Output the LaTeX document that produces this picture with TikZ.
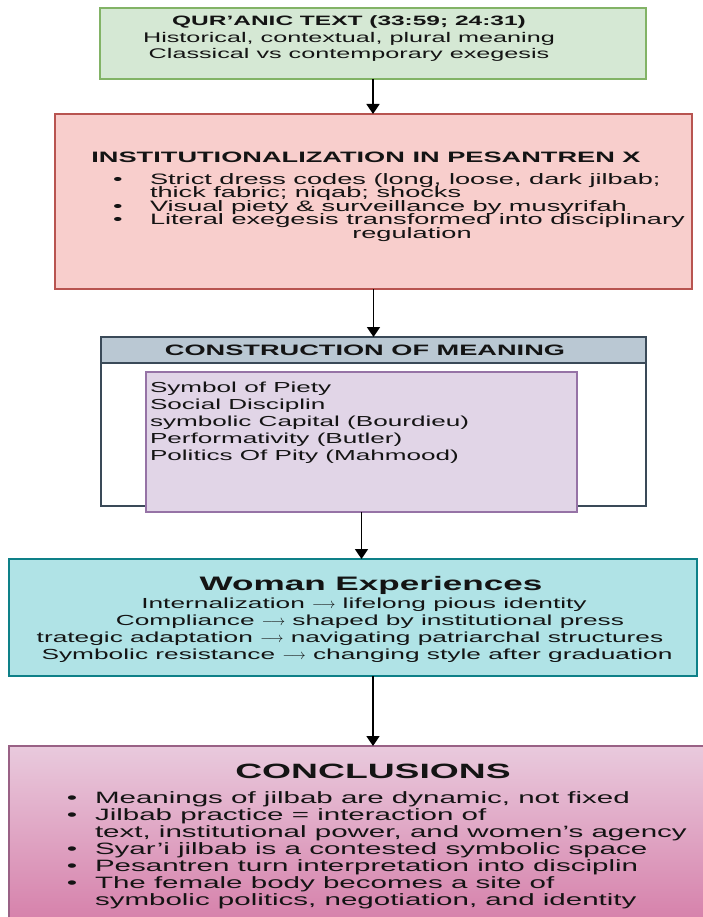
\documentclass[tikz,border=0pt]{standalone}
\usepackage{fontspec}
\setmainfont{Liberation Sans}[FakeStretch=1.8]
\usetikzlibrary{arrows.meta}
\definecolor{gfill}{HTML}{D5E8D4}
\definecolor{gdraw}{HTML}{82B366}
\definecolor{pfill}{HTML}{F8CECC}
\definecolor{pdraw}{HTML}{B85450}
\definecolor{hfill}{HTML}{BAC8D3}
\definecolor{hdraw}{HTML}{3A4A58}
\definecolor{lfill}{HTML}{E1D5E7}
\definecolor{ldraw}{HTML}{9673A6}
\definecolor{cfill}{HTML}{B0E3E6}
\definecolor{cdraw}{HTML}{0E8088}
\definecolor{mtop}{HTML}{E9CADD}
\definecolor{mbot}{HTML}{D57DA8}
\definecolor{mdraw}{HTML}{996185}
\definecolor{txt}{HTML}{141414}
\newcommand\fsz[1]{\fontsize{#1}{#1}\selectfont}
\newcommand\larr{ $\longrightarrow$ }
\begin{document}
\begin{tikzpicture}[x=1pt,y=-1pt,
  box/.style={rectangle, inner sep=0pt, outer sep=0pt, line width=1.4pt},
  ln/.style={inner sep=0pt, outer sep=0pt, anchor=base, text=txt},
  lnw/.style={inner sep=0pt, outer sep=0pt, anchor=base west, text=txt},
  bul/.style={inner sep=0pt, outer sep=0pt, anchor=base, text=txt},
  conn/.style={line width=1.8pt, -{Triangle[width=13pt,length=10pt]}}]
\useasboundingbox (0,0) rectangle (703,917);
\clip (0,0) rectangle (703,917);
\fill[white] (0,0) rectangle (703,917);

% boxes
\node[box, fill=gfill, draw=gdraw, minimum width=546pt, minimum height=71pt] (green) at (373,43.5) {};
\node[box, fill=pfill, draw=pdraw, minimum width=637pt, minimum height=175pt] (pink) at (373.5,201.5) {};
\node[box, fill=white, draw=hdraw, minimum width=545pt, minimum height=169pt] (outer) at (373.5,421.5) {};
\node[box, fill=hfill, draw=hdraw, minimum width=545pt, minimum height=26pt] (head) at (373.5,350) {};
\node[box, fill=lfill, draw=ldraw, minimum width=431pt, minimum height=140pt] (inner) at (361.5,442) {};
\node[box, fill=cfill, draw=cdraw, minimum width=688pt, minimum height=117pt] (cyan) at (353,617.5) {};
\node[box, top color=mtop, bottom color=mbot, draw=mdraw, minimum width=701pt, minimum height=184pt] (concl) at (359.5,838) {};

% green text
\node[ln, font=\bfseries\fsz{13.6}] (g1) at (349,26) {QUR’ANIC TEXT (33:59; 24:31)};
\node[ln, font=\fsz{14}] (g2) at (349,43) {Historical, contextual, plural meaning};
\node[ln, font=\fsz{14}] (g3) at (349,59) {Classical vs contemporary exegesis};

% pink text
\node[ln, font=\bfseries\fsz{15.1}] (p0) at (366,163) {INSTITUTIONALIZATION IN PESANTREN X};
\begin{scope}[font=\fsz{15.1}]
\node[bul] (pb1) at (118,184.5) {\textbullet};
\node[lnw] (p1) at (150,184.5) {Strict dress codes (long, loose, dark jilbab;};
\node[lnw] (p2) at (150,198) {thick fabric; niqab; shocks};
\node[bul] (pb3) at (118,211.5) {\textbullet};
\node[lnw] (p3) at (150,211.5) {Visual piety \& surveillance by musyrifah};
\node[bul] (pb4) at (118,225) {\textbullet};
\node[lnw] (p4) at (150,225) {Literal exegesis transformed into disciplinary};
\node[ln] (p5) at (412,238.5) {regulation};
\end{scope}

% construction of meaning
\node[ln, font=\bfseries\fsz{15.1}] (h0) at (365,355.5) {CONSTRUCTION OF MEANING};
\begin{scope}[font=\fsz{14.5}]
\node[lnw] (i1) at (150,392) {Symbol of Piety};
\node[lnw] (i2) at (150,409) {Social Disciplin};
\node[lnw] (i3) at (150,426) {symbolic Capital (Bourdieu)};
\node[lnw] (i4) at (150,443) {Performativity (Butler)};
\node[lnw] (i5) at (150,460) {Politics Of Pity (Mahmood)};
\end{scope}

% woman experiences
\node[ln, font=\bfseries\fsz{19.5}] (c0) at (371,590) {Woman Experiences};
\begin{scope}[font=\fsz{14.6}]
\node[ln] (c1) at (364,608.5) {Internalization\larr lifelong pious identity};
\node[ln] (c2) at (370,625.5) {Compliance\larr shaped by institutional press};
\node[ln] (c3) at (350,642.5) {trategic adaptation\larr navigating patriarchal structures};
\node[ln] (c4) at (357,659.5) {Symbolic resistance\larr changing style after graduation};
\end{scope}

% conclusions
\node[ln, font=\bfseries\fsz{20.7}] (m0) at (373,778) {CONCLUSIONS};
\begin{scope}[font=\fsz{16.4}]
\node[bul] (mb1) at (72,803.5) {\textbullet};
\node[lnw] (m1) at (95,803.5) {Meanings of jilbab are dynamic, not fixed};
\node[bul] (mb2) at (72,820.5) {\textbullet};
\node[lnw] (m2) at (95,820.5) {Jilbab practice = interaction of};
\node[lnw] (m3) at (95,837.5) {text, institutional power, and women’s agency};
\node[bul] (mb4) at (72,854.5) {\textbullet};
\node[lnw] (m4) at (95,854.5) {Syar’i jilbab is a contested symbolic space};
\node[bul] (mb5) at (72,871.5) {\textbullet};
\node[lnw] (m5) at (95,871.5) {Pesantren turn interpretation into disciplin};
\node[bul] (mb6) at (72,888.5) {\textbullet};
\node[lnw] (m6) at (95,888.5) {The female body becomes a site of};
\node[lnw] (m7) at (95,905.5) {symbolic politics, negotiation, and identity};
\end{scope}

% connectors
\draw[conn] (green.south) -- (green.south |- pink.north);
\draw[conn] (pink.south) -- (pink.south |- outer.north);
\draw[conn] (inner.south) -- (inner.south |- cyan.north);
\draw[conn] (green.south |- cyan.south) -- (green.south |- concl.north);
\end{tikzpicture}
\end{document}
